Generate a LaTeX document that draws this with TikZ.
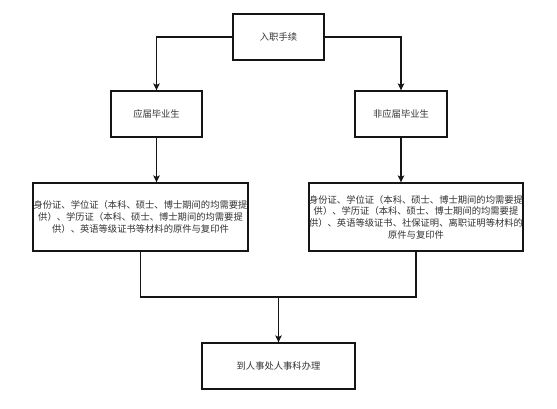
\documentclass[tikz,border=0pt]{standalone}
\usepackage{fontspec}
\usepackage{tikz}
\usetikzlibrary{arrows.meta,calc,positioning}
\newfontfamily\cjk{Noto Sans CJK SC}
\definecolor{Ink}{HTML}{151515}
\definecolor{TextGray}{HTML}{333333}

\begin{document}
\begin{tikzpicture}[x=1pt,y=-1pt,>={Stealth[length=7pt,width=6.5pt,inset=1.6pt]},
    every node/.style={font=\cjk\fontsize{9.3}{11.7}\selectfont,text=TextGray},
    stepbox/.style={draw=Ink,line width=1.3pt,fill=white,inner sep=0pt,align=center},
    link/.style={draw=Ink,line width=1.3pt}]
  \useasboundingbox (0,0) rectangle (557,409);

  \node[stepbox,minimum width=91pt,minimum height=46pt] (entry) at (278.5,37) {入职手续};

  \node[stepbox,minimum width=91pt,minimum height=46pt] (fresh) at (156.5,114) {应届毕业生};
  \node[stepbox,minimum width=92pt,minimum height=46pt] (nonfresh) at (401,114) {非应届毕业生};

  \node[stepbox,minimum width=215pt,minimum height=68pt] (docfresh) at (140.5,217)
    {身份证、学位证（本科、硕士、博士期间的均需要提\\供）、学历证（本科、硕士、博士期间的均需要提\\供）、英语等级证书等材料的原件与复印件};
  \node[stepbox,minimum width=214pt,minimum height=68pt] (docnon) at (416,217)
    {身份证、学位证（本科、硕士、博士期间的均需要提\\供）、学历证（本科、硕士、博士期间的均需要提\\供）、英语等级证书、社保证明、离职证明等材料的\\原件与复印件};

  \node[stepbox,minimum width=153pt,minimum height=46pt] (office) at (278.5,366) {到人事处人事科办理};

  \coordinate (merge) at (278.5,297);

  \draw[link,->] (entry.west) -| (fresh.north);
  \draw[link,->] (entry.east) -| (nonfresh.north);
  \draw[link,->] (fresh.south) -- (fresh.south |- docfresh.north);
  \draw[link,->] (nonfresh.south) -- (nonfresh.south |- docnon.north);
  \draw[link] (docfresh.south) |- (merge) -| (docnon.south);
  \draw[link,->] (merge) -- (office.north);
\end{tikzpicture}
\end{document}
